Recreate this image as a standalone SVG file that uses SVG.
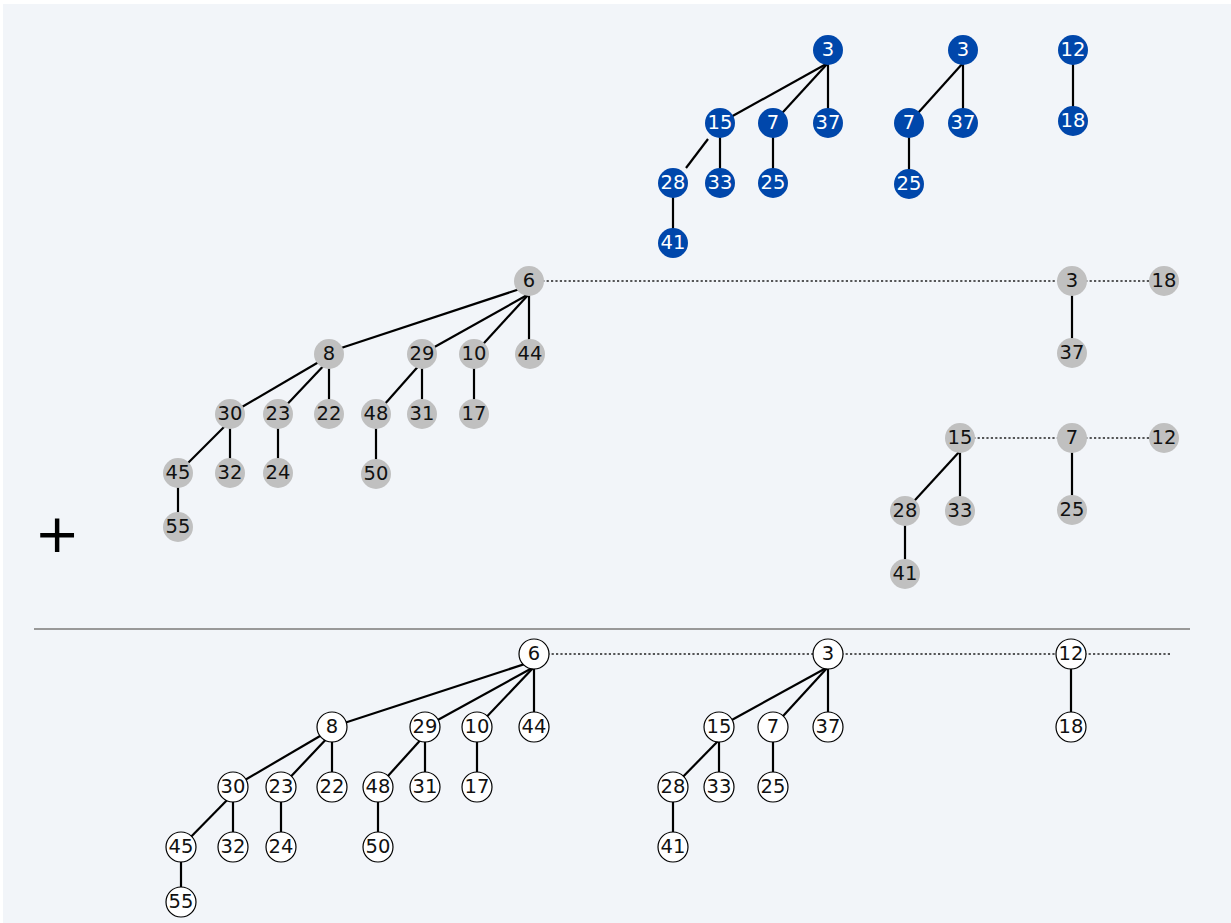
<svg xmlns="http://www.w3.org/2000/svg" width="1231" height="923" viewBox="0 0 1231 923">
<style>
.bg{fill:#f2f5f9}
.b circle{fill:#0047ab}
.g circle{fill:#c0c0c0}
.w circle{fill:#ffffff;stroke:#000;stroke-width:1.2}
text{font-family:"DejaVu Sans","Liberation Sans",sans-serif;font-size:19.5px;text-anchor:middle}
.b text{fill:#ffffff}
.g text,.w text{fill:#111}
.e line{stroke:#000;stroke-width:2.2}
.d line{stroke:#222;stroke-width:1.3;stroke-dasharray:2.2 2.2}
</style>
<rect x="0" y="0" width="1231" height="923" fill="#ffffff"/>
<rect class="bg" x="3" y="4" width="1228" height="919"/>
<g id="connectors">
<g class="d">
<line x1="529" y1="281" x2="1072" y2="281"/>
<line x1="1072" y1="281" x2="1164" y2="281"/>
<line x1="960" y1="438" x2="1072" y2="438"/>
<line x1="1072" y1="438" x2="1164" y2="438"/>
<line x1="534" y1="654" x2="828" y2="654"/>
<line x1="828" y1="654" x2="1071" y2="654"/>
<line x1="1071" y1="654" x2="1170" y2="654"/>
</g>
<g class="e">
<line x1="828" y1="63" x2="720" y2="123"/>
<line x1="828" y1="63" x2="773" y2="123"/>
<line x1="828" y1="63" x2="828" y2="123"/>
<line x1="708" y1="139" x2="686" y2="168"/>
<line x1="720" y1="136" x2="720" y2="183"/>
<line x1="773" y1="136" x2="773" y2="183"/>
<line x1="673" y1="196" x2="673" y2="243"/>
<line x1="963" y1="63" x2="909" y2="123"/>
<line x1="963" y1="63" x2="963" y2="123"/>
<line x1="909" y1="136" x2="909" y2="184"/>
<line x1="1073" y1="63" x2="1073" y2="121"/>
<line x1="529" y1="286" x2="329" y2="352"/>
<line x1="529" y1="294" x2="422" y2="354"/>
<line x1="529" y1="294" x2="474" y2="354"/>
<line x1="529" y1="294" x2="529" y2="354"/>
<line x1="329" y1="356" x2="230" y2="414"/>
<line x1="329" y1="360" x2="278" y2="414"/>
<line x1="329" y1="367" x2="329" y2="414"/>
<line x1="422" y1="362" x2="376" y2="414"/>
<line x1="422" y1="367" x2="422" y2="414"/>
<line x1="474" y1="367" x2="474" y2="414"/>
<line x1="230" y1="421" x2="178" y2="473"/>
<line x1="230" y1="427" x2="230" y2="473"/>
<line x1="278" y1="427" x2="278" y2="473"/>
<line x1="376" y1="427" x2="376" y2="474"/>
<line x1="178" y1="486" x2="178" y2="527"/>
<line x1="1072" y1="294" x2="1072" y2="353"/>
<line x1="960" y1="451" x2="905" y2="511"/>
<line x1="960" y1="451" x2="960" y2="511"/>
<line x1="1072" y1="451" x2="1072" y2="510"/>
<line x1="905" y1="524" x2="905" y2="574"/>
<line x1="534" y1="661" x2="332" y2="727"/>
<line x1="534" y1="667" x2="425" y2="727"/>
<line x1="534" y1="667" x2="477" y2="727"/>
<line x1="534" y1="667" x2="534" y2="727"/>
<line x1="332" y1="729" x2="233" y2="787"/>
<line x1="332" y1="733" x2="281" y2="787"/>
<line x1="332" y1="740" x2="332" y2="787"/>
<line x1="425" y1="735" x2="378" y2="787"/>
<line x1="425" y1="740" x2="425" y2="787"/>
<line x1="477" y1="740" x2="477" y2="787"/>
<line x1="233" y1="794" x2="181" y2="847"/>
<line x1="233" y1="800" x2="233" y2="847"/>
<line x1="281" y1="800" x2="281" y2="847"/>
<line x1="378" y1="800" x2="378" y2="847"/>
<line x1="181" y1="860" x2="181" y2="902"/>
<line x1="828" y1="667" x2="719" y2="727"/>
<line x1="828" y1="667" x2="773" y2="727"/>
<line x1="828" y1="667" x2="828" y2="727"/>
<line x1="719" y1="740" x2="673" y2="787"/>
<line x1="719" y1="740" x2="719" y2="787"/>
<line x1="773" y1="740" x2="773" y2="787"/>
<line x1="673" y1="800" x2="673" y2="847"/>
<line x1="1071" y1="667" x2="1071" y2="727"/>
</g>
</g>
<g id="blue-trees" class="b">
<g id="b1-3"><circle cx="828" cy="50" r="15"/><text x="828" y="56">3</text></g>
<g id="b1-15"><circle cx="720" cy="123" r="15"/><text x="720" y="129">15</text></g>
<g id="b1-7"><circle cx="773" cy="123" r="15"/><text x="773" y="129">7</text></g>
<g id="b1-37"><circle cx="828" cy="123" r="15"/><text x="828" y="129">37</text></g>
<g id="b1-28"><circle cx="673" cy="183" r="15"/><text x="673" y="189">28</text></g>
<g id="b1-33"><circle cx="720" cy="183" r="15"/><text x="720" y="189">33</text></g>
<g id="b1-25"><circle cx="773" cy="183" r="15"/><text x="773" y="189">25</text></g>
<g id="b1-41"><circle cx="673" cy="243" r="15"/><text x="673" y="249">41</text></g>
<g id="b2-3"><circle cx="963" cy="50" r="15"/><text x="963" y="56">3</text></g>
<g id="b2-7"><circle cx="909" cy="123" r="15"/><text x="909" y="129">7</text></g>
<g id="b2-37"><circle cx="963" cy="123" r="15"/><text x="963" y="129">37</text></g>
<g id="b2-25"><circle cx="909" cy="184" r="15"/><text x="909" y="190">25</text></g>
<g id="b3-12"><circle cx="1073" cy="50" r="15"/><text x="1073" y="56">12</text></g>
<g id="b3-18"><circle cx="1073" cy="121" r="15"/><text x="1073" y="127">18</text></g>
</g>
<g id="gray-trees" class="g">
<g id="g-6"><circle cx="529" cy="281" r="15"/><text x="529" y="287">6</text></g>
<g id="g-8"><circle cx="329" cy="354" r="15"/><text x="329" y="360">8</text></g>
<g id="g-29"><circle cx="422" cy="354" r="15"/><text x="422" y="360">29</text></g>
<g id="g-10"><circle cx="474" cy="354" r="15"/><text x="474" y="360">10</text></g>
<g id="g-44"><circle cx="530" cy="354" r="15"/><text x="530" y="360">44</text></g>
<g id="g-30"><circle cx="230" cy="414" r="15"/><text x="230" y="420">30</text></g>
<g id="g-23"><circle cx="278" cy="414" r="15"/><text x="278" y="420">23</text></g>
<g id="g-22"><circle cx="329" cy="414" r="15"/><text x="329" y="420">22</text></g>
<g id="g-48"><circle cx="376" cy="414" r="15"/><text x="376" y="420">48</text></g>
<g id="g-31"><circle cx="422" cy="414" r="15"/><text x="422" y="420">31</text></g>
<g id="g-17"><circle cx="474" cy="414" r="15"/><text x="474" y="420">17</text></g>
<g id="g-45"><circle cx="178" cy="473" r="15"/><text x="178" y="479">45</text></g>
<g id="g-32"><circle cx="230" cy="473" r="15"/><text x="230" y="479">32</text></g>
<g id="g-24"><circle cx="278" cy="473" r="15"/><text x="278" y="479">24</text></g>
<g id="g-50"><circle cx="376" cy="474" r="15"/><text x="376" y="480">50</text></g>
<g id="g-55"><circle cx="178" cy="527" r="15"/><text x="178" y="533">55</text></g>
<g id="g-3"><circle cx="1072" cy="281" r="15"/><text x="1072" y="287">3</text></g>
<g id="g-18"><circle cx="1164" cy="281" r="15"/><text x="1164" y="287">18</text></g>
<g id="g-37"><circle cx="1072" cy="353" r="15"/><text x="1072" y="359">37</text></g>
<g id="g-15"><circle cx="960" cy="438" r="15"/><text x="960" y="444">15</text></g>
<g id="g-7"><circle cx="1072" cy="438" r="15"/><text x="1072" y="444">7</text></g>
<g id="g-12"><circle cx="1164" cy="438" r="15"/><text x="1164" y="444">12</text></g>
<g id="g-28"><circle cx="905" cy="511" r="15"/><text x="905" y="517">28</text></g>
<g id="g-33"><circle cx="960" cy="511" r="15"/><text x="960" y="517">33</text></g>
<g id="g-25"><circle cx="1072" cy="510" r="15"/><text x="1072" y="516">25</text></g>
<g id="g-41"><circle cx="905" cy="574" r="15"/><text x="905" y="580">41</text></g>
</g>
<g id="plus"><text x="57" y="552" style="font-size:54px;fill:#000">+</text></g>
<g id="separator"><line x1="34" y1="629" x2="1190" y2="629" stroke="#999" stroke-width="2"/></g>
<g id="result-trees" class="w">
<g id="w-6"><circle cx="534" cy="654" r="15"/><text x="534" y="660">6</text></g>
<g id="w-8"><circle cx="332" cy="727" r="15"/><text x="332" y="733">8</text></g>
<g id="w-29"><circle cx="425" cy="727" r="15"/><text x="425" y="733">29</text></g>
<g id="w-10"><circle cx="477" cy="727" r="15"/><text x="477" y="733">10</text></g>
<g id="w-44"><circle cx="534" cy="727" r="15"/><text x="534" y="733">44</text></g>
<g id="w-30"><circle cx="233" cy="787" r="15"/><text x="233" y="793">30</text></g>
<g id="w-23"><circle cx="281" cy="787" r="15"/><text x="281" y="793">23</text></g>
<g id="w-22"><circle cx="332" cy="787" r="15"/><text x="332" y="793">22</text></g>
<g id="w-48"><circle cx="378" cy="787" r="15"/><text x="378" y="793">48</text></g>
<g id="w-31"><circle cx="425" cy="787" r="15"/><text x="425" y="793">31</text></g>
<g id="w-17"><circle cx="477" cy="787" r="15"/><text x="477" y="793">17</text></g>
<g id="w-45"><circle cx="181" cy="847" r="15"/><text x="181" y="853">45</text></g>
<g id="w-32"><circle cx="233" cy="847" r="15"/><text x="233" y="853">32</text></g>
<g id="w-24"><circle cx="281" cy="847" r="15"/><text x="281" y="853">24</text></g>
<g id="w-50"><circle cx="378" cy="847" r="15"/><text x="378" y="853">50</text></g>
<g id="w-55"><circle cx="181" cy="902" r="15"/><text x="181" y="908">55</text></g>
<g id="w-3"><circle cx="828" cy="654" r="15"/><text x="828" y="660">3</text></g>
<g id="w-15"><circle cx="719" cy="727" r="15"/><text x="719" y="733">15</text></g>
<g id="w-7"><circle cx="773" cy="727" r="15"/><text x="773" y="733">7</text></g>
<g id="w-37"><circle cx="828" cy="727" r="15"/><text x="828" y="733">37</text></g>
<g id="w-28"><circle cx="673" cy="787" r="15"/><text x="673" y="793">28</text></g>
<g id="w-33"><circle cx="719" cy="787" r="15"/><text x="719" y="793">33</text></g>
<g id="w-25"><circle cx="773" cy="787" r="15"/><text x="773" y="793">25</text></g>
<g id="w-41"><circle cx="673" cy="847" r="15"/><text x="673" y="853">41</text></g>
<g id="w-12"><circle cx="1071" cy="654" r="15"/><text x="1071" y="660">12</text></g>
<g id="w-18"><circle cx="1071" cy="727" r="15"/><text x="1071" y="733">18</text></g>
</g>
</svg>
